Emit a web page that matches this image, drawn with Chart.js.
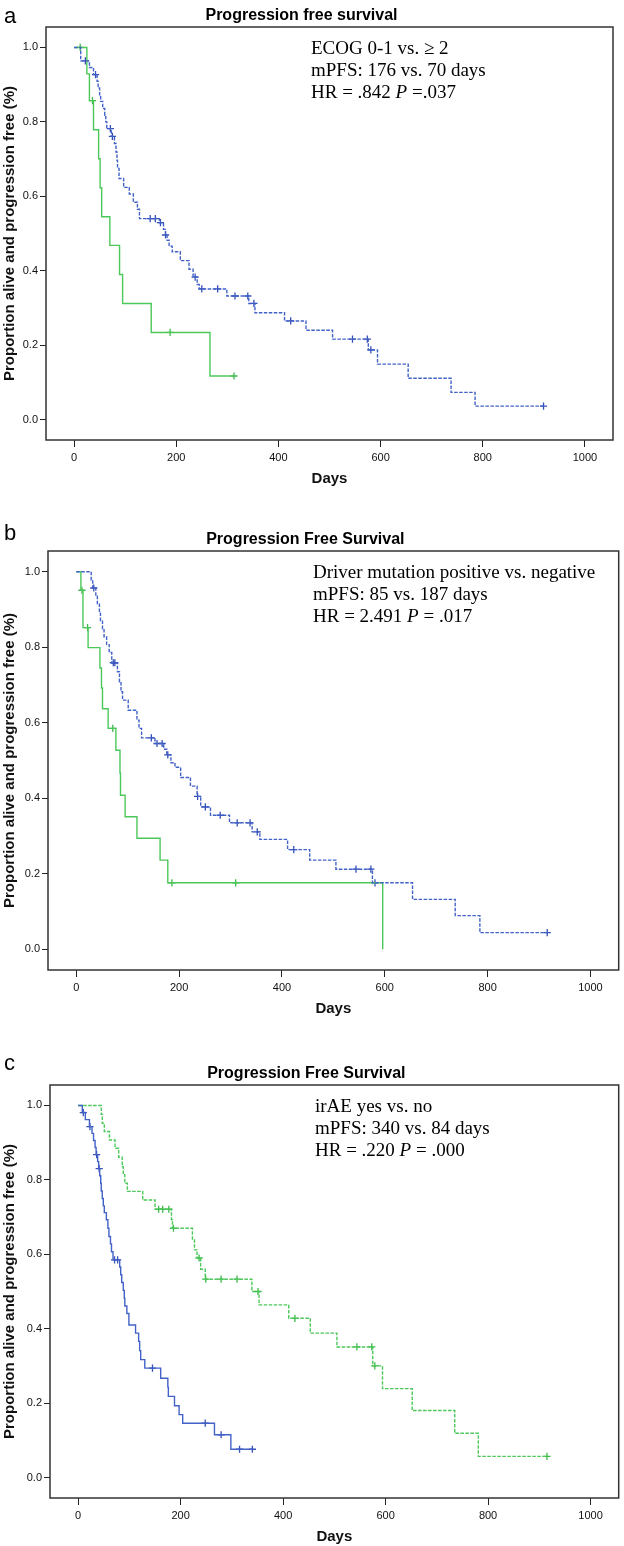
<!DOCTYPE html>
<html>
<head>
<meta charset="utf-8">
<script src="https://cdn.jsdelivr.net/npm/chart.js@4.4.1/dist/chart.umd.min.js"></script>
<style>
  html, body { margin: 0; padding: 0; background: #fff; }
  #page { position: relative; width: 624px; height: 1546px; }
  canvas { position: absolute; left: 0; }
</style>
</head>
<body>
<div id="page">
  <canvas id="chartA" width="624" height="500" style="top:0px"></canvas>
  <canvas id="chartB" width="624" height="510" style="top:510px"></canvas>
  <canvas id="chartC" width="624" height="526" style="top:1020px"></canvas>
</div>
<script>
// axis ticks
var xTicks = [0, 200, 400, 600, 800, 1000];
var xTickLabels = ['0', '200', '400', '600', '800', '1000'];
var yTicks = [0, 0.2, 0.4, 0.6, 0.8, 1.0];
var yTickLabels = ['0.0', '0.2', '0.4', '0.6', '0.8', '1.0'];

// a: ECOG 0-1 (blue, dashed) vs >= 2 (green)
var aBlueDays = [0, 13, 30, 38, 45, 47, 50, 52, 56, 60, 62, 64, 73, 79, 82, 84, 85, 88, 97, 108, 116, 124, 128, 167, 175, 179, 182, 186, 192, 208, 225, 233, 241, 245, 299, 342, 354, 412, 454, 506, 576, 594, 654, 738, 785];
var aBlueSurv = [1.0, 0.964, 0.946, 0.927, 0.909, 0.891, 0.873, 0.855, 0.836, 0.818, 0.800, 0.782, 0.761, 0.742, 0.719, 0.697, 0.675, 0.648, 0.624, 0.606, 0.584, 0.565, 0.540, 0.529, 0.511, 0.496, 0.482, 0.466, 0.451, 0.427, 0.404, 0.383, 0.363, 0.351, 0.332, 0.312, 0.287, 0.265, 0.240, 0.216, 0.187, 0.149, 0.111, 0.073, 0.036];
var aBlueCensorDays = [22, 42, 71, 75, 149, 159, 169, 179, 237, 250, 281, 315, 340, 352, 424, 545, 574, 581, 919];
var aBlueCensorSurv = [0.964, 0.927, 0.782, 0.761, 0.540, 0.540, 0.529, 0.496, 0.383, 0.351, 0.351, 0.332, 0.332, 0.312, 0.265, 0.216, 0.216, 0.187, 0.036];
var aGreenDays = [0, 25, 30, 38, 48, 51, 54, 70, 89, 95, 151, 266];
var aGreenSurv = [1.0, 0.929, 0.857, 0.779, 0.701, 0.623, 0.545, 0.468, 0.390, 0.312, 0.234, 0.117];
var aGreenCensorDays = [12, 36, 188, 313];
var aGreenCensorSurv = [1.0, 0.857, 0.234, 0.117];

// b: driver mutation negative (blue, dashed) vs positive (green)
var bBlueDays = [0, 29, 32, 38, 41, 45, 47, 51, 54, 59, 64, 69, 80, 84, 87, 90, 101, 118, 122, 127, 153, 170, 176, 184, 192, 203, 222, 235, 242, 261, 298, 342, 357, 411, 454, 505, 576, 654, 737, 785];
var bBlueSurv = [1.0, 0.978, 0.957, 0.935, 0.914, 0.892, 0.871, 0.849, 0.828, 0.807, 0.786, 0.759, 0.735, 0.708, 0.682, 0.660, 0.633, 0.607, 0.585, 0.560, 0.545, 0.530, 0.515, 0.494, 0.482, 0.455, 0.432, 0.405, 0.377, 0.355, 0.335, 0.311, 0.291, 0.264, 0.236, 0.212, 0.176, 0.132, 0.089, 0.044];
var bBlueCensorDays = [34, 72, 75, 146, 157, 167, 178, 236, 251, 280, 313, 338, 352, 423, 544, 573, 581, 916];
var bBlueCensorSurv = [0.957, 0.759, 0.759, 0.560, 0.545, 0.545, 0.515, 0.405, 0.377, 0.355, 0.335, 0.335, 0.311, 0.264, 0.212, 0.212, 0.176, 0.044];
var bGreenDays = [0, 9, 13, 23, 46, 49, 51, 62, 77, 85, 86, 95, 118, 163, 178, 596];
var bGreenSurv = [1.0, 0.951, 0.852, 0.799, 0.745, 0.692, 0.637, 0.585, 0.527, 0.467, 0.408, 0.351, 0.294, 0.236, 0.176, 0.0];
var bGreenCensorDays = [11, 22, 71, 186, 310];
var bGreenCensorSurv = [0.951, 0.852, 0.585, 0.176, 0.176];

// c: irAE no (blue, solid) vs yes (green, dashed)
var cBlueDays = [0, 8, 14, 22, 27, 30, 33, 35, 38, 40, 42, 44, 45, 47, 49, 51, 55, 58, 60, 63, 65, 68, 81, 83, 85, 88, 90, 91, 95, 99, 112, 118, 120, 122, 130, 161, 175, 176, 188, 197, 204, 266, 298];
var cBlueSurv = [1.0, 0.981, 0.962, 0.943, 0.925, 0.906, 0.887, 0.868, 0.849, 0.830, 0.811, 0.791, 0.770, 0.750, 0.730, 0.712, 0.693, 0.670, 0.648, 0.628, 0.607, 0.585, 0.566, 0.545, 0.524, 0.503, 0.482, 0.461, 0.441, 0.410, 0.388, 0.366, 0.341, 0.317, 0.294, 0.267, 0.243, 0.218, 0.193, 0.169, 0.146, 0.115, 0.076];
var cBlueCensorDays = [10, 23, 36, 41, 71, 77, 145, 248, 279, 315, 340];
var cBlueCensorSurv = [0.981, 0.943, 0.868, 0.830, 0.585, 0.585, 0.294, 0.146, 0.115, 0.076, 0.076];
var cGreenDays = [0, 45, 47, 51, 61, 72, 79, 86, 88, 91, 96, 126, 150, 182, 184, 223, 227, 232, 239, 248, 339, 353, 411, 453, 505, 575, 594, 652, 735, 781];
var cGreenSurv = [1.0, 0.976, 0.952, 0.930, 0.907, 0.885, 0.861, 0.836, 0.814, 0.791, 0.769, 0.746, 0.721, 0.693, 0.670, 0.641, 0.612, 0.590, 0.560, 0.533, 0.500, 0.464, 0.428, 0.388, 0.351, 0.300, 0.239, 0.180, 0.119, 0.057];
var cGreenCensorDays = [157, 165, 177, 186, 236, 249, 279, 310, 351, 423, 544, 573, 579, 915];
var cGreenCensorSurv = [0.721, 0.721, 0.721, 0.670, 0.590, 0.533, 0.533, 0.533, 0.500, 0.428, 0.351, 0.351, 0.300, 0.057];

var BLUE = '#4262c8', BLUE_MARK = '#3550b8';
var GREEN = '#4cc85a', GREEN_MARK = '#3cba4a';
var SANS = '"Liberation Sans", Arial, sans-serif';
var SERIF = '"Liberation Serif", "Times New Roman", serif';

// step curve runs on to the last censored case
function stepPoints(days, surv, censorDays) {
    var pts = days.map(function (d, i) { return {x: d, y: surv[i]}; });
    var last = Math.max.apply(null, censorDays);
    if (last > days[days.length - 1]) pts.push({x: last, y: surv[surv.length - 1]});
    return pts;
}

function censorPoints(days, surv) {
    return days.map(function (d, i) { return {x: d, y: surv[i]}; });
}

function curve(days, surv, censorDays, color, dashed) {
    return {
        data: stepPoints(days, surv, censorDays),
        showLine: true,
        stepped: true,
        borderColor: color,
        borderWidth: 1.4,
        borderDash: dashed ? [3.5, 1.5] : [],
        pointRadius: 0
    };
}

function censors(days, surv, color) {
    return {
        data: censorPoints(days, surv),
        showLine: false,
        pointStyle: 'cross',
        pointRadius: 3.6,
        pointBorderWidth: 1.3,
        pointBorderColor: color,
        borderColor: color
    };
}

var framePlugin = {
    id: 'frame',
    beforeDatasetsDraw: function (chart) {
        var a = chart.chartArea, ctx = chart.ctx;
        ctx.save();
        ctx.strokeStyle = '#333';
        ctx.lineWidth = 1.5;
        ctx.strokeRect(a.left, a.top, a.right - a.left, a.bottom - a.top);
        ctx.restore();
    }
};

// title, panel letter and the statistics note
function notesPlugin(panel) {
    return {
        id: 'notes',
        afterDraw: function (chart) {
            var a = chart.chartArea, ctx = chart.ctx;
            ctx.save();
            ctx.fillStyle = '#000';
            ctx.textBaseline = 'middle';
            ctx.textAlign = 'center';
            ctx.font = 'bold 16px ' + SANS;
            ctx.fillText(panel.title, (a.left + a.right) / 2 - 28, a.top - 11);
            ctx.textAlign = 'left';
            ctx.textBaseline = 'alphabetic';
            ctx.font = '22px ' + SANS;
            ctx.fillText(panel.letter, 4, panel.letterY);
            ctx.textBaseline = 'middle';
            panel.note.forEach(function (line, i) {
                var x = a.left + 265, y = a.top + 22 + i * 22;
                line.split('*').forEach(function (part, k) {
                    ctx.font = (k % 2 ? 'italic ' : '') + '19px ' + SERIF;
                    ctx.fillText(part, x, y);
                    x += ctx.measureText(part).width;
                });
            });
            ctx.restore();
        }
    };
}

function kmChart(id, panel, datasets) {
    return new Chart(document.getElementById(id), {
        type: 'scatter',
        data: {datasets: datasets},
        options: {
            responsive: false,
            animation: false,
            events: [],
            layout: {padding: {left: 0, right: panel.padRight, top: panel.padTop, bottom: panel.padBottom}},
            plugins: {legend: {display: false}, tooltip: {enabled: false}, title: {display: false}},
            scales: {
                x: {
                    type: 'linear',
                    min: -55,
                    max: 1055,
                    afterBuildTicks: function (s) { s.ticks = xTicks.map(function (v) { return {value: v}; }); },
                    afterFit: function (s) { s.height = panel.xAxisHeight; },
                    grid: {drawOnChartArea: false, drawTicks: true, tickLength: 7, color: '#222', lineWidth: 1},
                    border: {display: false},
                    ticks: {
                        autoSkip: false,
                        maxRotation: 0,
                        padding: 4,
                        color: '#111',
                        font: {family: SANS, size: 11},
                        callback: function (v, i) { return xTickLabels[i]; }
                    },
                    title: {display: true, text: 'Days', color: '#111', font: {family: SANS, size: 15, weight: 'bold'}, padding: {top: 0, bottom: panel.daysPad}}
                },
                y: {
                    type: 'linear',
                    min: -0.055,
                    max: 1.055,
                    afterBuildTicks: function (s) { s.ticks = yTicks.map(function (v) { return {value: v}; }); },
                    afterFit: function (s) { s.width = panel.yAxisWidth; },
                    grid: {drawOnChartArea: false, drawTicks: true, tickLength: 6, color: '#222', lineWidth: 1},
                    border: {display: false},
                    ticks: {
                        autoSkip: false,
                        padding: 2,
                        color: '#111',
                        font: {family: SANS, size: 11},
                        callback: function (v, i) { return yTickLabels[i]; }
                    },
                    title: {display: true, text: 'Proportion alive and progression free (%)', color: '#111', font: {family: SANS, size: 15, weight: 'bold'}, padding: {top: 1, bottom: 0}}
                }
            }
        },
        plugins: [framePlugin, notesPlugin(panel)]
    });
}

kmChart('chartA', {
    title: 'Progression free survival', letter: 'a', letterY: 23,
    note: ['ECOG 0-1 vs. \u2265 2', 'mPFS: 176 vs. 70 days', 'HR = .842 *P* =.037'],
    padTop: 27, padRight: 11, padBottom: 10, yAxisWidth: 46, xAxisHeight: 50, daysPad: 2
}, [
    curve(aBlueDays, aBlueSurv, aBlueCensorDays, BLUE, true),
    curve(aGreenDays, aGreenSurv, aGreenCensorDays, GREEN, false),
    censors(aBlueCensorDays, aBlueCensorSurv, BLUE_MARK),
    censors(aGreenCensorDays, aGreenCensorSurv, GREEN_MARK)
]);

kmChart('chartB', {
    title: 'Progression Free Survival', letter: 'b', letterY: 30,
    note: ['Driver mutation positive vs. negative', 'mPFS: 85 vs. 187 days', 'HR = 2.491 *P* = .017'],
    padTop: 41, padRight: 3, padBottom: 0, yAxisWidth: 48, xAxisHeight: 50, daysPad: 2
}, [
    curve(bBlueDays, bBlueSurv, bBlueCensorDays, BLUE, true),
    curve(bGreenDays, bGreenSurv, bGreenCensorDays, GREEN, false),
    censors(bBlueCensorDays, bBlueCensorSurv, BLUE_MARK),
    censors(bGreenCensorDays, bGreenCensorSurv, GREEN_MARK)
]);

kmChart('chartC', {
    title: 'Progression Free Survival', letter: 'c', letterY: 50,
    note: ['irAE yes vs. no', 'mPFS: 340 vs. 84 days', 'HR = .220 *P* = .000'],
    padTop: 65, padRight: 5, padBottom: 0, yAxisWidth: 50, xAxisHeight: 48, daysPad: 0
}, [
    curve(cBlueDays, cBlueSurv, cBlueCensorDays, BLUE, false),
    curve(cGreenDays, cGreenSurv, cGreenCensorDays, GREEN, true),
    censors(cBlueCensorDays, cBlueCensorSurv, BLUE_MARK),
    censors(cGreenCensorDays, cGreenCensorSurv, GREEN_MARK)
]);
</script>
</body>
</html>
